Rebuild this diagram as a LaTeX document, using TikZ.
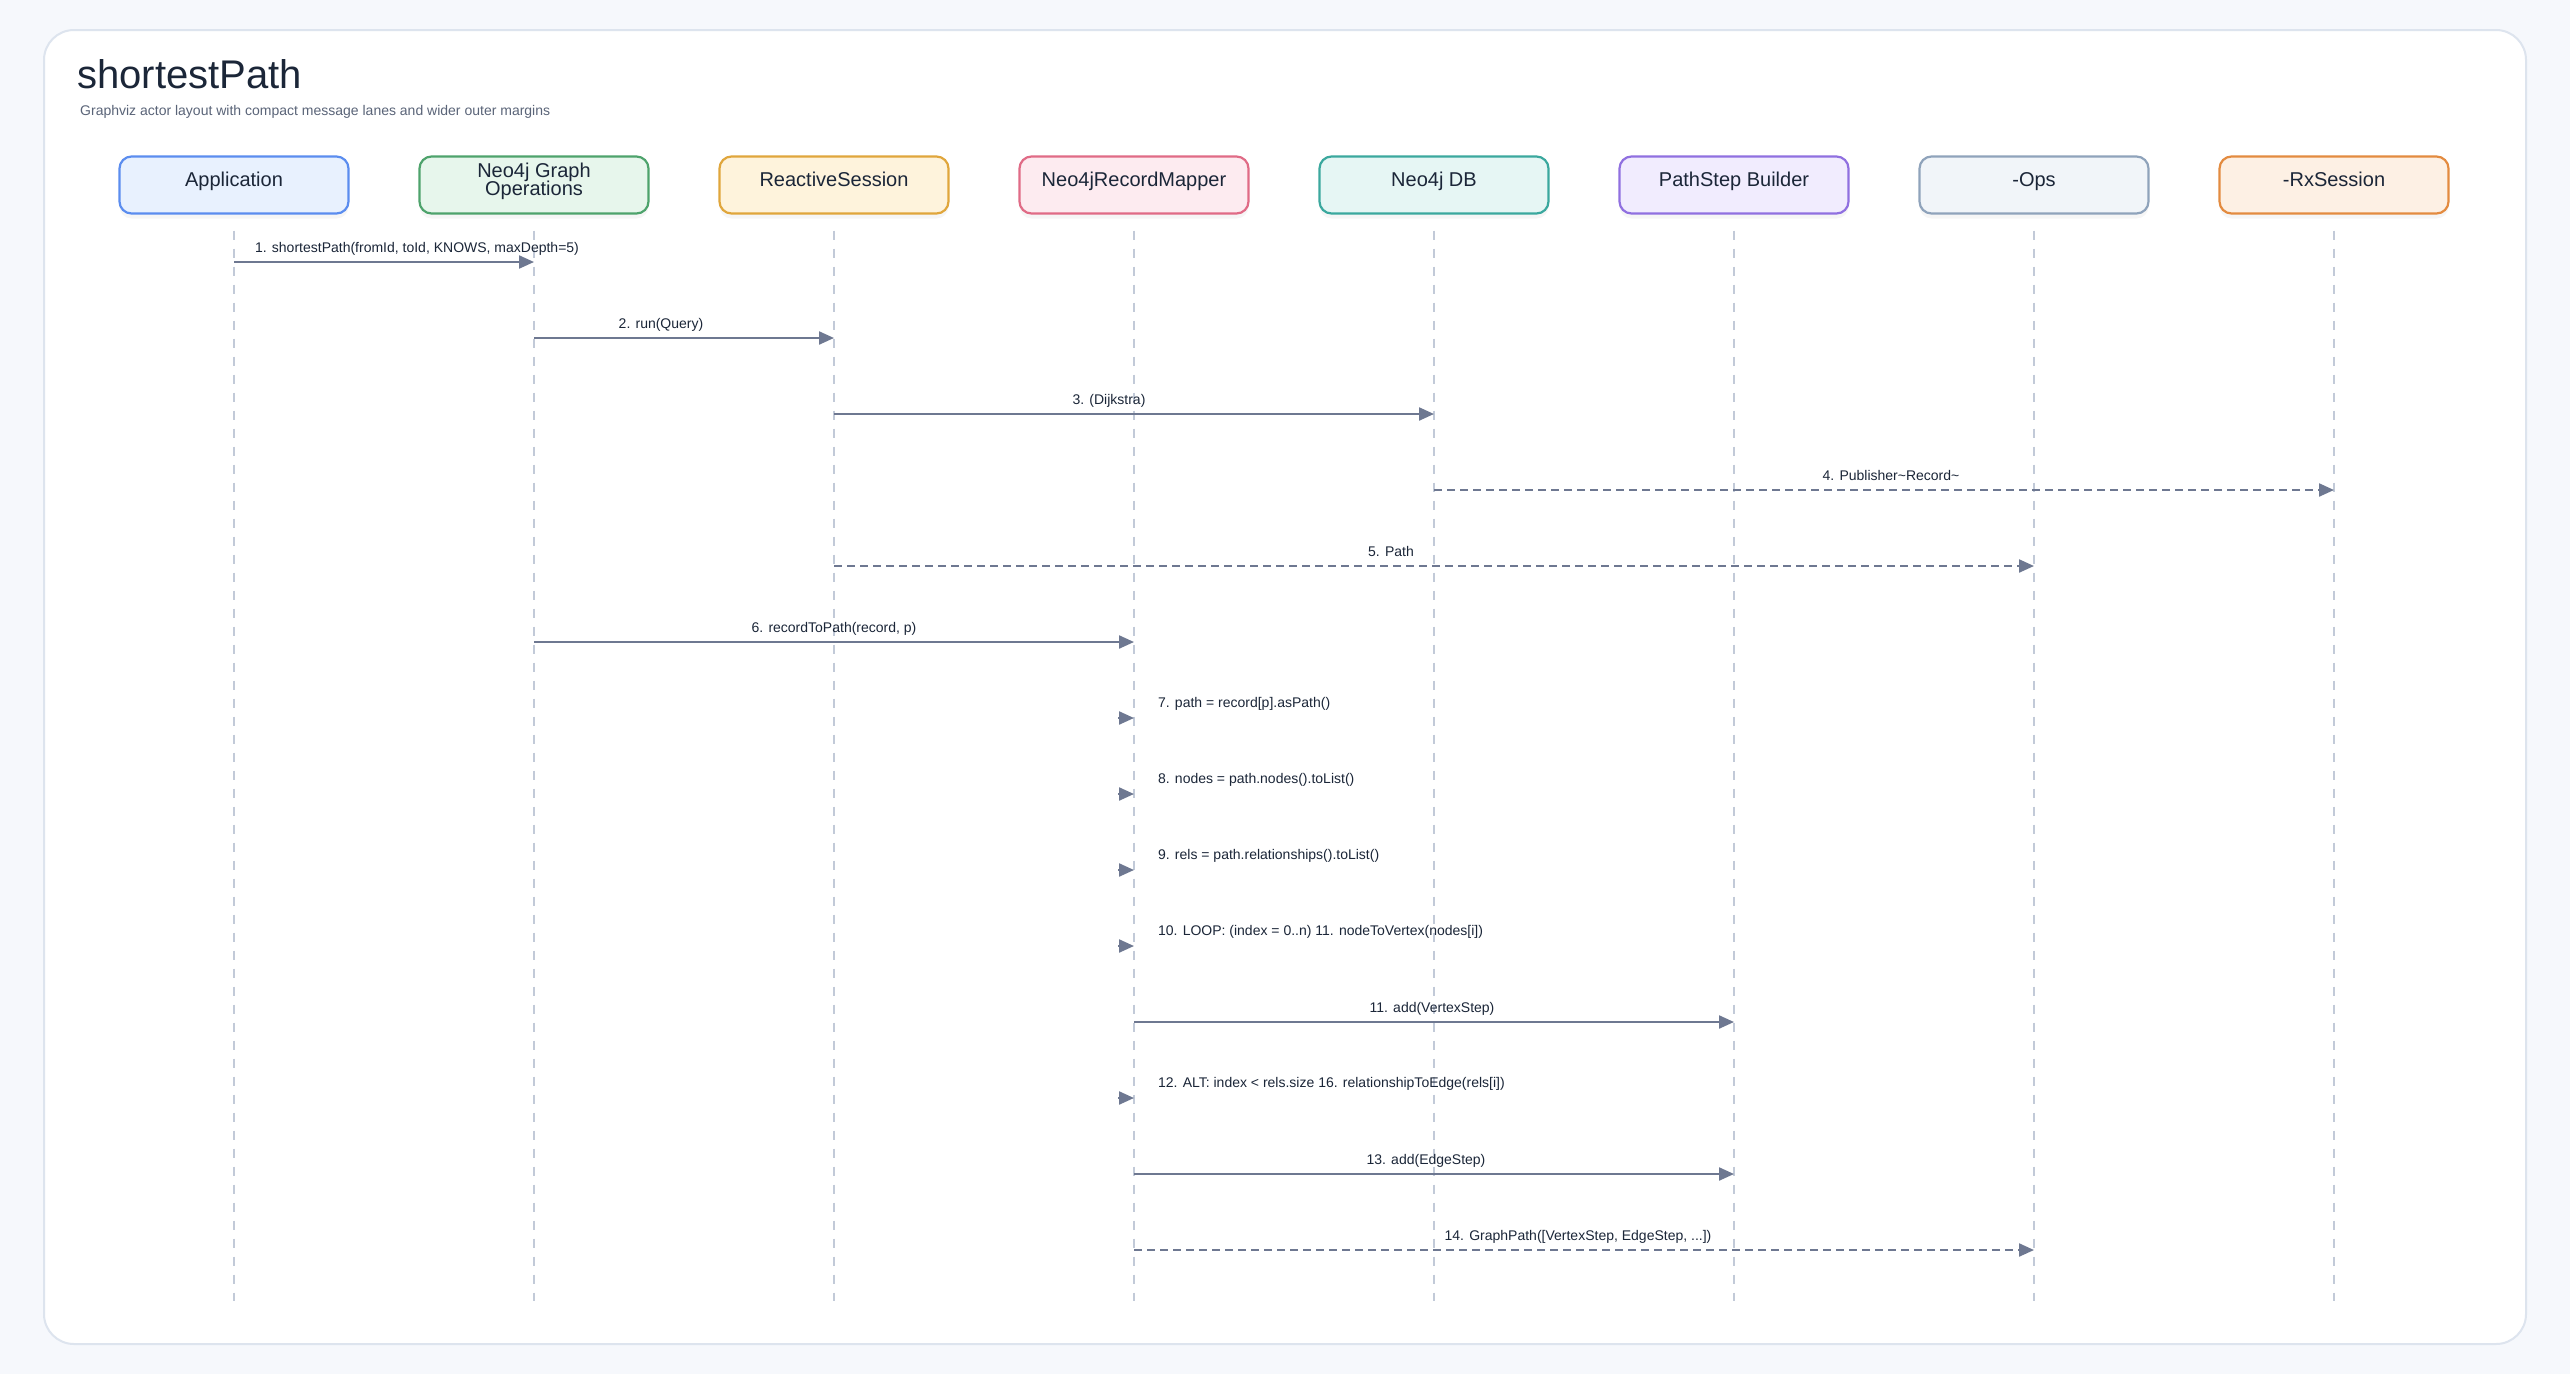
\documentclass[tikz,border=0pt]{standalone}
\usepackage{fontspec}
\setmainfont{Liberation Sans}
\usetikzlibrary{arrows.meta,positioning,calc,shadows}
\definecolor{pagebg}{HTML}{F6F8FC}
\definecolor{cardline}{HTML}{DDE4EE}
\definecolor{inkdark}{HTML}{1B2638}
\definecolor{inkgrey}{HTML}{5A6478}
\definecolor{msgline}{HTML}{6E7891}
\definecolor{lifegrey}{HTML}{C2CAD8}
\definecolor{appline}{HTML}{5B8DEF}\definecolor{appfill}{HTML}{E8F1FE}
\definecolor{opsline}{HTML}{4EA36C}\definecolor{opsfill}{HTML}{E7F6EC}
\definecolor{rsline}{HTML}{E0A63C}\definecolor{rsfill}{HTML}{FEF3DC}
\definecolor{mapline}{HTML}{E06B86}\definecolor{mapfill}{HTML}{FDEBF0}
\definecolor{dbline}{HTML}{3BA89E}\definecolor{dbfill}{HTML}{E6F6F4}
\definecolor{psbline}{HTML}{9070E0}\definecolor{psbfill}{HTML}{F1ECFE}
\definecolor{opxline}{HTML}{8FA3BB}\definecolor{opxfill}{HTML}{F1F5F9}
\definecolor{rxline}{HTML}{E38B40}\definecolor{rxfill}{HTML}{FDF0E4}

\begin{document}
\begin{tikzpicture}[x=1pt,y=-1pt,
      node distance=71pt,
      actor/.style 2 args={draw=#1,fill=#2,line width=2.2pt,rounded corners=12pt,
                    minimum width=229pt,minimum height=57pt,outer sep=0pt,align=center,
                    text height=13pt,text depth=11pt,
                    text=inkdark,font=\fontsize{20}{21}\selectfont,
                    drop shadow={opacity=0.07,shadow xshift=0pt,shadow yshift=-5pt}},
      lifeline/.style={lifegrey,line width=2pt,dash pattern=on 9pt off 9pt},
      msg/.style={-{Triangle[length=15pt,width=13pt]},msgline,line width=2.2pt},
      lbl/.style={midway,anchor=base,yshift=10pt,inner sep=0pt,text=inkdark,
                  font=\fontsize{14}{16}\selectfont},
      selflbl/.style={anchor=base west,xshift=23pt,yshift=11pt,inner sep=0pt,text=inkdark,
                  font=\fontsize{14}{16}\selectfont}]
    % page and card
    \fill[pagebg] (0,0) rectangle (2570,1374);
    \useasboundingbox (0,0) rectangle (2570,1374);
    \draw[cardline,fill=white,line width=2pt,rounded corners=30pt] (44,30) rectangle (2526,1344);
    \node[anchor=base west,inner sep=0pt,text=inkdark,font=\fontsize{40}{44}\selectfont] (title) at (77,88) {shortestPath};
    \node[anchor=base west,inner sep=0pt,text=inkgrey,font=\fontsize{14}{16}\selectfont] (subtitle) at (80,115)
      {Graphviz actor layout with compact message lanes and wider outer margins};
    % actors
    \node[actor={appline}{appfill}] (app) at (234,185) {Application};
    \node[actor={opsline}{opsfill},text height=31pt,right=of app] (ops) {Neo4j Graph\\[-3pt]Operations};
    \node[actor={rsline}{rsfill},right=of ops]        (rsess)  {ReactiveSession};
    \node[actor={mapline}{mapfill},right=of rsess]    (mapper) {Neo4jRecordMapper};
    \node[actor={dbline}{dbfill},right=of mapper]     (db)     {Neo4j DB};
    \node[actor={psbline}{psbfill},right=of db]       (psb)    {PathStep Builder};
    \node[actor={opxline}{opxfill},right=of psb]      (opsx)   {-Ops};
    \node[actor={rxline}{rxfill},right=of opsx]       (rxs)    {-RxSession};
    \foreach \a in {app,ops,rsess,mapper,db,psb,opsx,rxs}
      \draw[lifeline] ($(\a.south)+(0,17)$) -- (\a |- 0,1301);
    % message rows
    \foreach \i in {1,...,14}
      \coordinate (m\i) at (0,{186+76*\i});
    \draw[msg] (app |- m1) -- node[lbl,xshift=33pt] {1. shortestPath(fromId, toId, KNOWS, maxDepth=5)} (ops |- m1);
    \draw[msg] (ops |- m2) -- node[lbl,xshift=-23pt] {2. run(Query)} (rsess |- m2);
    \draw[msg] (rsess |- m3) -- node[lbl,xshift=-25pt] {3. (Dijkstra)} (db |- m3);
    \draw[msg,dash pattern=on 8pt off 5pt] (db |- m4) -- node[lbl,xshift=7pt] {4. Publisher\textasciitilde Record\textasciitilde} (rxs |- m4);
    \draw[msg,dash pattern=on 8pt off 5pt] (rsess |- m5) -- node[lbl,xshift=-43pt] {5. Path} (opsx |- m5);
    \draw[msg] (ops |- m6) -- node[lbl] {6. recordToPath(record, p)} (mapper |- m6);
    \draw[msg] ($(mapper |- m7)+(-16,0)$) -- (mapper |- m7) node[selflbl] {7. path = record[p].asPath()};
    \draw[msg] ($(mapper |- m8)+(-16,0)$) -- (mapper |- m8) node[selflbl] {8. nodes = path.nodes().toList()};
    \draw[msg] ($(mapper |- m9)+(-16,0)$) -- (mapper |- m9) node[selflbl] {9. rels = path.relationships().toList()};
    \draw[msg] ($(mapper |- m10)+(-16,0)$) -- (mapper |- m10) node[selflbl] {10. LOOP: (index = 0..n) 11. nodeToVertex(nodes[i])};
    \draw[msg] (mapper |- m11) -- node[lbl,xshift=-2pt] {11. add(VertexStep)} (psb |- m11);
    \draw[msg] ($(mapper |- m12)+(-16,0)$) -- (mapper |- m12) node[selflbl] {12. ALT: index < rels.size 16. relationshipToEdge(rels[i])};
    \draw[msg] (mapper |- m13) -- node[lbl,xshift=-8pt] {13. add(EdgeStep)} (psb |- m13);
    \draw[msg,dash pattern=on 8pt off 5pt] (mapper |- m14) -- node[lbl,xshift=-6pt] {14. GraphPath([VertexStep, EdgeStep, ...])} (opsx |- m14);
  \end{tikzpicture}
\end{document}
